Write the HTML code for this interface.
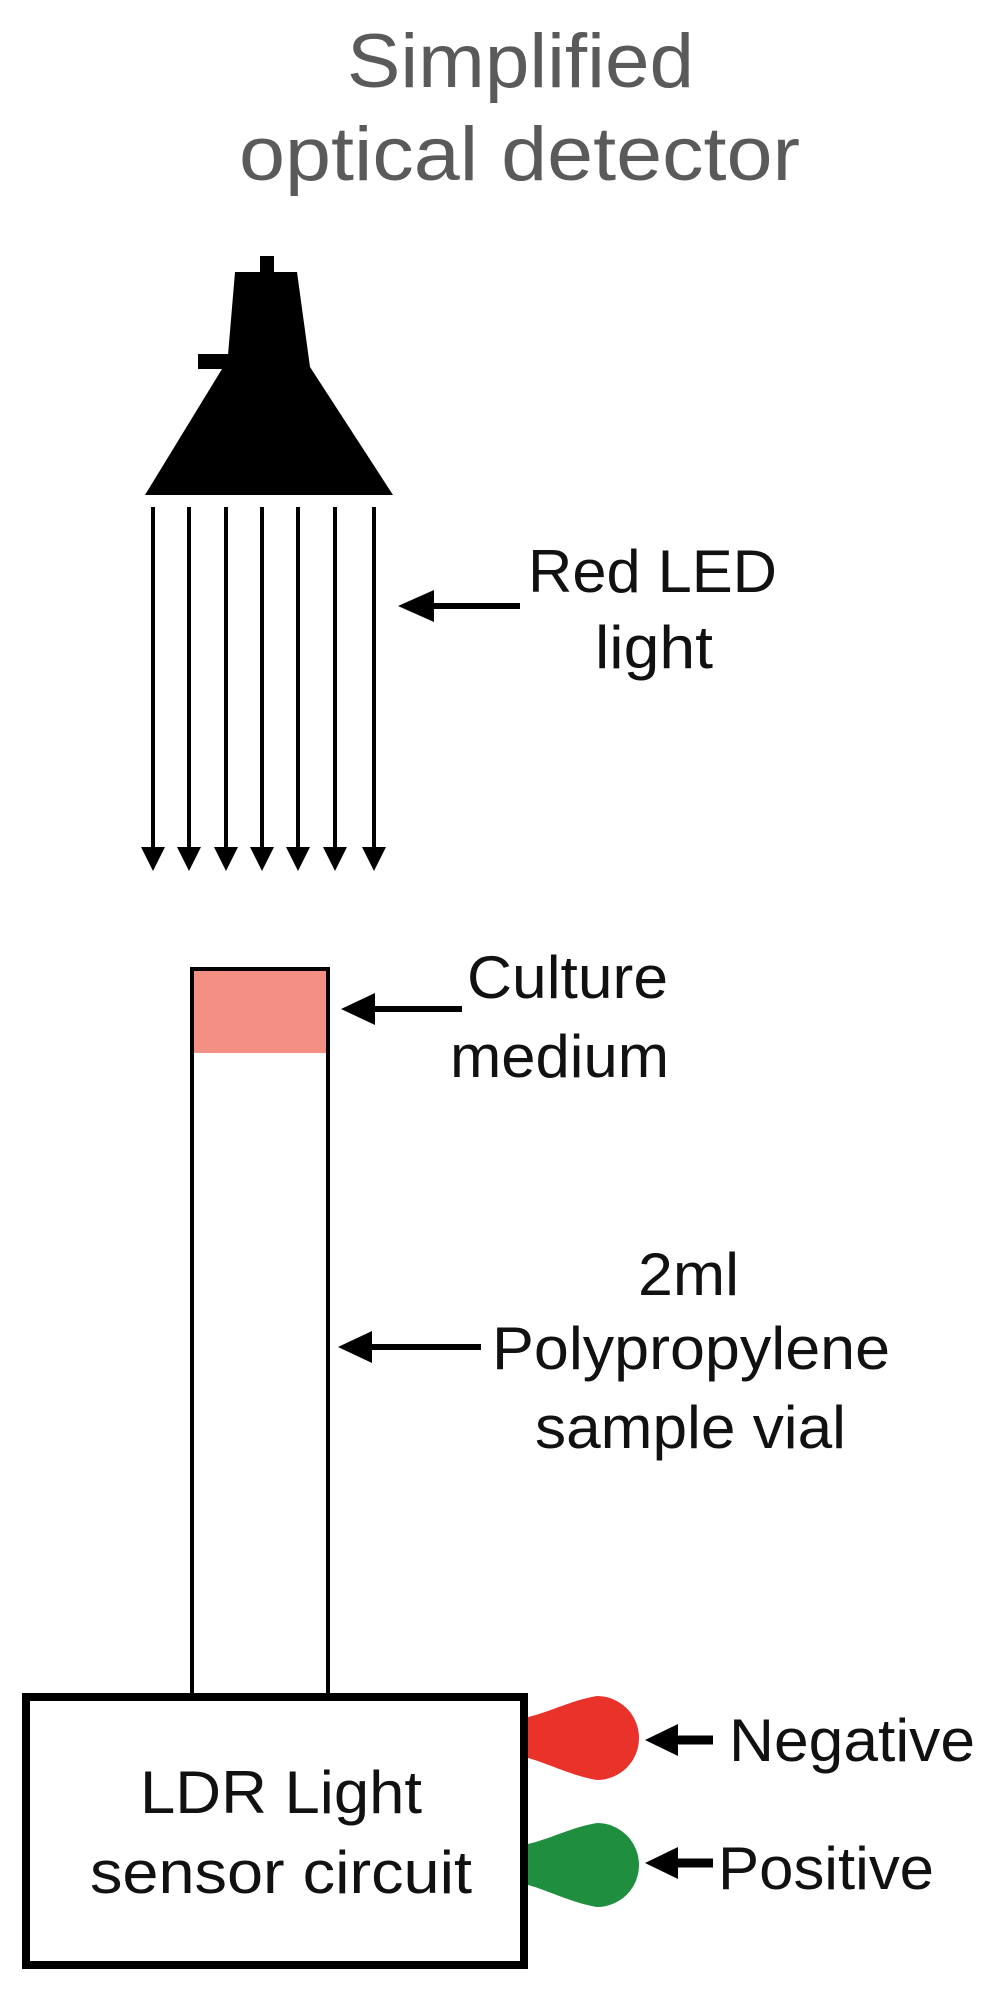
<!DOCTYPE html>
<html><head><meta charset="utf-8"><style>
html,body{margin:0;padding:0;background:#fff;}
svg{display:block;}
text{font-family:"Liberation Sans",Arial,sans-serif;fill:#111;}
</style></head><body>
<svg width="1008" height="1990" viewBox="0 0 1008 1990" xmlns="http://www.w3.org/2000/svg">
<text x="347" y="87" font-size="76" style="fill:#5a5a5a" textLength="347" lengthAdjust="spacingAndGlyphs">Simplified</text>
<text x="239" y="180" font-size="76" style="fill:#5a5a5a" textLength="561" lengthAdjust="spacingAndGlyphs">optical detector</text>
<!-- lamp -->
<rect x="260" y="256" width="14" height="18" fill="#000"/>
<rect x="198" y="354" width="30" height="15" fill="#000"/>
<polygon points="235,272 297,272 310,367 393,495 145,495 222,369 227,367" fill="#000"/>
<!-- rays -->
<g stroke="#000" stroke-width="4">
<line x1="153" y1="507" x2="153" y2="850"/><line x1="189" y1="507" x2="189" y2="850"/>
<line x1="226" y1="507" x2="226" y2="850"/><line x1="262" y1="507" x2="262" y2="850"/>
<line x1="298" y1="507" x2="298" y2="850"/><line x1="335" y1="507" x2="335" y2="850"/>
<line x1="374" y1="507" x2="374" y2="850"/>
</g>
<g fill="#000">
<polygon points="141,847 165,847 153,871"/><polygon points="177,847 201,847 189,871"/>
<polygon points="214,847 238,847 226,871"/><polygon points="250,847 274,847 262,871"/>
<polygon points="286,847 310,847 298,871"/><polygon points="323,847 347,847 335,871"/>
<polygon points="362,847 386,847 374,871"/>
</g>
<!-- red LED arrow -->
<line x1="430" y1="606" x2="520" y2="606" stroke="#000" stroke-width="6"/>
<polygon points="398,606 434,590 434,622" fill="#000"/>
<text x="528" y="592" font-size="60" textLength="249" lengthAdjust="spacingAndGlyphs">Red LED</text>
<text x="595" y="668" font-size="60" textLength="118" lengthAdjust="spacingAndGlyphs">light</text>
<!-- vial -->
<rect x="190" y="969" width="139" height="84" fill="#f48f84"/>
<path d="M192,1697 V969 H328 V1697" fill="none" stroke="#000" stroke-width="4"/>
<line x1="372" y1="1009" x2="462" y2="1009" stroke="#000" stroke-width="6"/>
<polygon points="341,1009 375,993 375,1025" fill="#000"/>
<text x="467" y="998" font-size="60" textLength="201" lengthAdjust="spacingAndGlyphs">Culture</text>
<text x="450" y="1077" font-size="60" textLength="219" lengthAdjust="spacingAndGlyphs">medium</text>
<line x1="370" y1="1347" x2="481" y2="1347" stroke="#000" stroke-width="6"/>
<polygon points="338,1347 372,1331 372,1363" fill="#000"/>
<text x="638" y="1295" font-size="60" textLength="101" lengthAdjust="spacingAndGlyphs">2ml</text>
<text x="492" y="1369" font-size="60" textLength="398" lengthAdjust="spacingAndGlyphs">Polypropylene</text>
<text x="535" y="1448" font-size="60" textLength="311" lengthAdjust="spacingAndGlyphs">sample vial</text>
<!-- box -->
<rect x="26" y="1697" width="498" height="268" fill="none" stroke="#000" stroke-width="8"/>
<text x="140" y="1813" font-size="60" textLength="282" lengthAdjust="spacingAndGlyphs">LDR Light</text>
<text x="90" y="1893" font-size="60" textLength="382" lengthAdjust="spacingAndGlyphs">sensor circuit</text>
<!-- bulbs -->
<path d="M528,1717 C550,1712 572,1700 597,1696 A42,42 0 1,1 597,1780 C572,1776 550,1764 528,1758 Z" fill="#e8322a"/>
<path d="M528,1844 C550,1839 572,1827 597,1823 A42,42 0 1,1 597,1907 C572,1903 550,1891 528,1885 Z" fill="#1f8f3f"/>
<line x1="672" y1="1740" x2="713" y2="1740" stroke="#000" stroke-width="9"/>
<polygon points="645,1740 678,1724 678,1756" fill="#000"/>
<line x1="672" y1="1863" x2="713" y2="1863" stroke="#000" stroke-width="9"/>
<polygon points="645,1863 678,1847 678,1879" fill="#000"/>
<text x="729" y="1761" font-size="60" textLength="246" lengthAdjust="spacingAndGlyphs">Negative</text>
<text x="718" y="1889" font-size="60" textLength="216" lengthAdjust="spacingAndGlyphs">Positive</text>
</svg>
</body></html>
